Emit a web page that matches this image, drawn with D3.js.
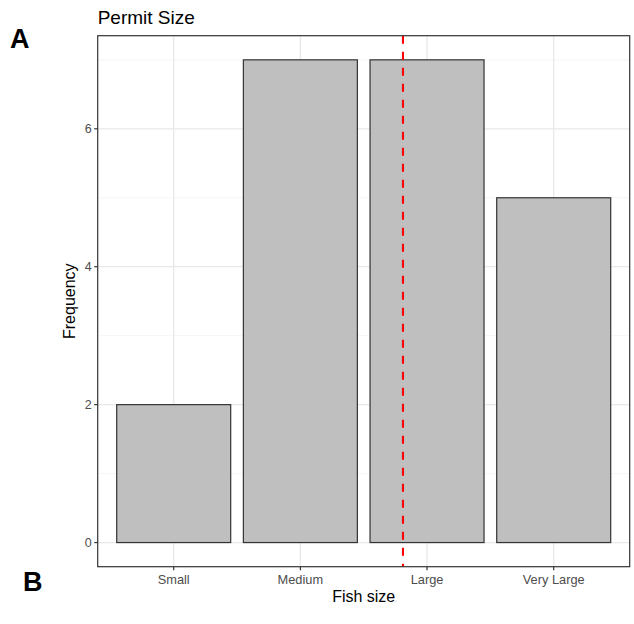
<!DOCTYPE html>
<html><head><meta charset="utf-8">
<script src="https://cdn.jsdelivr.net/npm/d3@7"></script>
<style>body{margin:0;background:#fff}svg{display:block;font-family:"Liberation Sans",Arial,sans-serif}</style>
</head><body>
<svg id="c" width="634" height="624"></svg>
<script>
const categories = ["Small", "Medium", "Large", "Very Large"];
const frequencies = [2, 7, 7, 5];
const yTicks = [0, 2, 4, 6];
const yMinor = [1, 3, 5, 7];
const refLinePos = 2.81; // position on the discrete axis (1 = Small)

const svg = d3.select("#c");
const L = 97.7, R = 629.7, T = 35.7, B = 566.7;

// discrete axis: centers at 1..n, expansion 0.6
const xc = d3.scaleLinear().domain([0.4, categories.length + 0.6]).range([L, R]);
const y = d3.scaleLinear().domain([-0.35, 7.35]).range([B, T]);

svg.append("rect").attr("x", L).attr("y", T).attr("width", R - L).attr("height", B - T).attr("fill", "#fff");

// minor grid
svg.append("g").selectAll("line").data(yMinor).join("line")
  .attr("x1", L).attr("x2", R).attr("y1", d => y(d)).attr("y2", d => y(d))
  .attr("stroke", "#f0f0f0").attr("stroke-width", 0.7);
// major grid
svg.append("g").selectAll("line").data(yTicks).join("line")
  .attr("x1", L).attr("x2", R).attr("y1", d => y(d)).attr("y2", d => y(d))
  .attr("stroke", "#e8e8e8").attr("stroke-width", 1.3);
svg.append("g").selectAll("line").data(categories).join("line")
  .attr("x1", (d, i) => xc(i + 1)).attr("x2", (d, i) => xc(i + 1)).attr("y1", T).attr("y2", B)
  .attr("stroke", "#e8e8e8").attr("stroke-width", 1.3);

// bars
svg.append("g").selectAll("rect").data(categories).join("rect")
  .attr("x", (d, i) => xc(i + 1 - 0.45))
  .attr("width", (d, i) => xc(i + 1 + 0.45) - xc(i + 1 - 0.45))
  .attr("y", (d, i) => y(frequencies[i]))
  .attr("height", (d, i) => y(0) - y(frequencies[i]))
  .attr("fill", "#bfbfbf").attr("stroke", "#333").attr("stroke-width", 1.2);

// reference line
svg.append("line").attr("x1", xc(refLinePos)).attr("x2", xc(refLinePos)).attr("y1", T).attr("y2", B)
  .attr("stroke", "#ff0000").attr("stroke-width", 2.1).attr("stroke-dasharray", "8,8");

// panel border
svg.append("rect").attr("x", L).attr("y", T).attr("width", R - L).attr("height", B - T)
  .attr("fill", "none").attr("stroke", "#333").attr("stroke-width", 1.2);

// y axis
const ya = svg.append("g");
ya.selectAll("line").data(yTicks).join("line")
  .attr("x1", L - 3.5).attr("x2", L).attr("y1", d => y(d)).attr("y2", d => y(d))
  .attr("stroke", "#333").attr("stroke-width", 1.2);
ya.selectAll("text").data(yTicks).join("text")
  .attr("x", L - 6).attr("y", d => y(d)).attr("dy", "0.36em").attr("text-anchor", "end")
  .attr("font-size", 12.5).attr("fill", "#4d4d4d").text(d => d);

// x axis
const xa = svg.append("g");
xa.selectAll("line").data(categories).join("line")
  .attr("x1", (d, i) => xc(i + 1)).attr("x2", (d, i) => xc(i + 1)).attr("y1", B).attr("y2", B + 3.5)
  .attr("stroke", "#333").attr("stroke-width", 1.2);
xa.selectAll("text").data(categories).join("text")
  .attr("x", (d, i) => xc(i + 1)).attr("y", B + 17).attr("text-anchor", "middle")
  .attr("font-size", 12.8).attr("fill", "#4d4d4d").text(d => d);

// axis titles
svg.append("text").attr("x", (L + R) / 2).attr("y", 602).attr("text-anchor", "middle")
  .attr("font-size", 16).attr("fill", "#000").text("Fish size");
svg.append("text").attr("transform", `translate(75,${(T + B) / 2}) rotate(-90)`).attr("text-anchor", "middle")
  .attr("font-size", 16).attr("fill", "#000").text("Frequency");

// title
svg.append("text").attr("x", L).attr("y", 24).attr("font-size", 19).attr("fill", "#000").text("Permit Size");

// panel tags
svg.append("text").attr("x", 10).attr("y", 48).attr("font-size", 27).attr("font-weight", "bold").text("A");
svg.append("text").attr("x", 23).attr("y", 591).attr("font-size", 27).attr("font-weight", "bold").text("B");
</script>
</body></html>
